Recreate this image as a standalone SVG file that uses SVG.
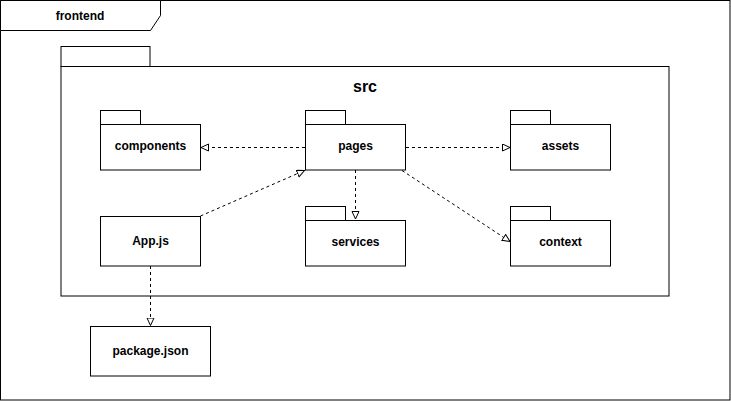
<svg xmlns="http://www.w3.org/2000/svg" width="731" height="401" viewBox="0 0 731 401">
<style>
.s{fill:#fff;stroke:#000;stroke-width:1}
.t{font-family:"Liberation Sans",Arial,sans-serif;font-size:12px;font-weight:bold;fill:#000;text-anchor:middle;dominant-baseline:central}
.c{fill:none;stroke:#000;stroke-width:1;stroke-dasharray:3 3}
</style>
<defs>
<marker id="a" markerUnits="userSpaceOnUse" markerWidth="12" markerHeight="10" refX="8" refY="4" orient="auto">
<path d="M0.5,0.5 L8,4 L0.5,7.5 Z" fill="#fff" stroke="#000" stroke-width="1"/>
</marker>
</defs>
<g id="frontend">
<rect class="s" x="0.5" y="0.5" width="729.5" height="399.5"/>
<path class="s" d="M0.5,0.5 H160.5 V15.5 L150.5,30.5 H0.5 Z"/>
<text class="t" x="80" y="16">frontend</text>
</g>
<g id="src">
<rect class="s" x="61" y="46.5" width="89" height="20"/>
<rect class="s" x="61" y="66.5" width="608" height="229.5"/>
<text class="t" style="font-size:16px" x="365" y="86.5">src</text>
</g>
<g id="components">
<rect class="s" x="100.5" y="110.5" width="40" height="14"/>
<rect class="s" x="100.5" y="124.5" width="100" height="45.5"/>
<text class="t" x="150.5" y="146">components</text>
</g>
<g id="pages">
<rect class="s" x="305.5" y="110.5" width="40" height="14"/>
<rect class="s" x="305.5" y="124.5" width="100" height="45.5"/>
<text class="t" x="355.5" y="146">pages</text>
</g>
<g id="assets">
<rect class="s" x="510.5" y="110.5" width="40" height="14"/>
<rect class="s" x="510.5" y="124.5" width="100" height="45.5"/>
<text class="t" x="560.5" y="146">assets</text>
</g>
<g id="services">
<rect class="s" x="305.5" y="206.5" width="40" height="14"/>
<rect class="s" x="305.5" y="220.5" width="100" height="45.5"/>
<text class="t" x="355.5" y="242">services</text>
</g>
<g id="context">
<rect class="s" x="510.5" y="206.5" width="40" height="14"/>
<rect class="s" x="510.5" y="220.5" width="100" height="45.5"/>
<text class="t" x="560.5" y="242">context</text>
</g>
<g id="appjs">
<rect class="s" x="100.5" y="216.5" width="100" height="49.5"/>
<text class="t" x="150.5" y="240.5">App.js</text>
</g>
<g id="packagejson">
<rect class="s" x="90.5" y="326.5" width="120" height="49.5"/>
<text class="t" x="150.5" y="350.5">package.json</text>
</g>
<g id="connectors">
<path class="c" d="M305,147.5 H201" marker-end="url(#a)"/>
<path class="c" d="M406,147.5 H510" marker-end="url(#a)"/>
<path class="c" d="M355.5,170 V219" marker-end="url(#a)"/>
<path class="c" d="M402,170.5 L510,241.5" marker-end="url(#a)"/>
<path class="c" d="M200.5,216 L304.5,170.5" marker-end="url(#a)"/>
<path class="c" d="M150.5,266 V325.5" marker-end="url(#a)"/>
</g>
</svg>
